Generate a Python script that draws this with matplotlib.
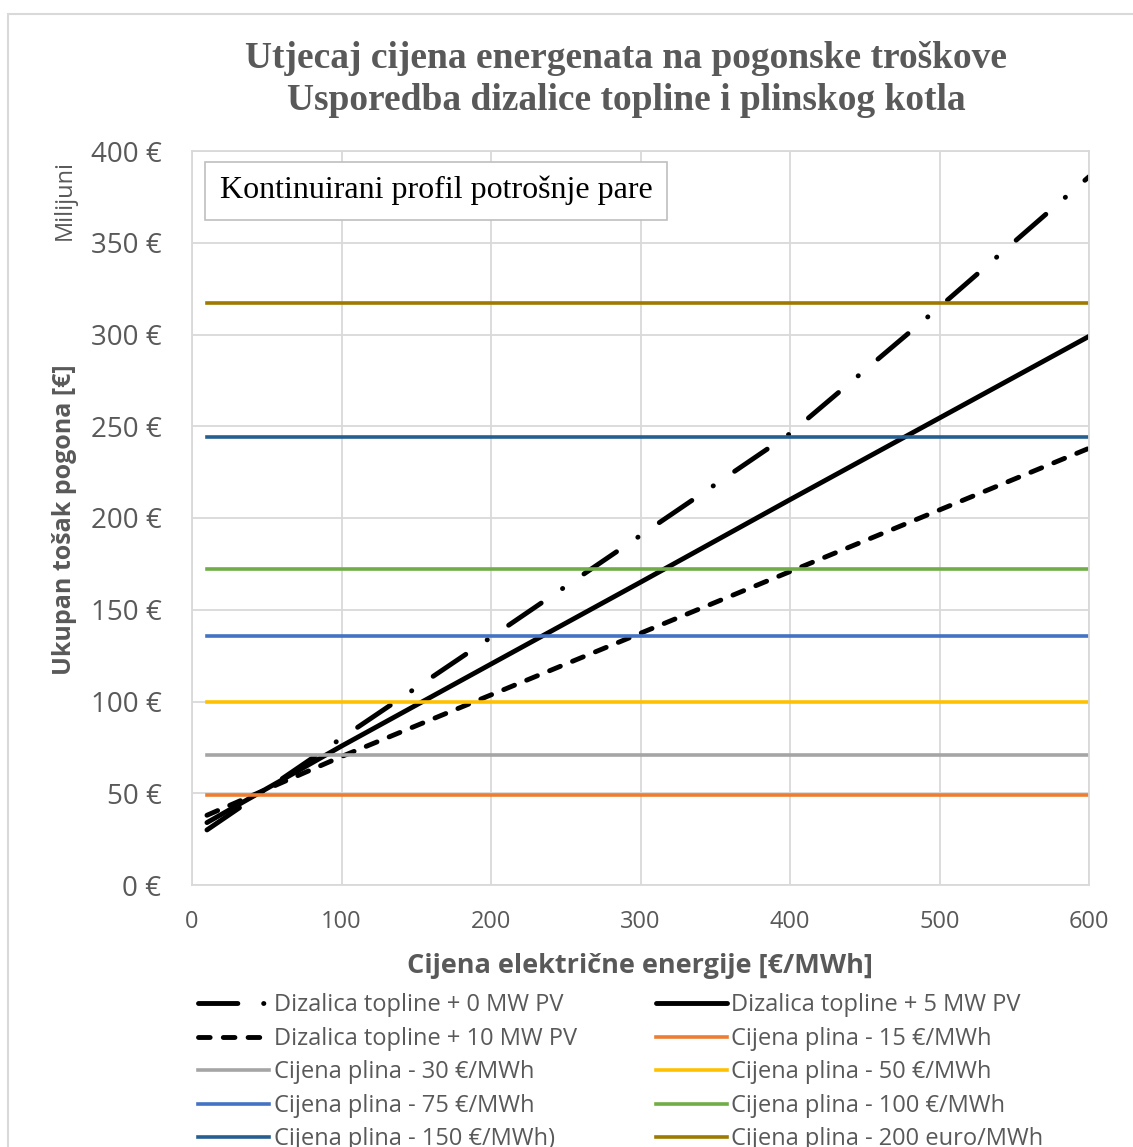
import matplotlib
matplotlib.use("Agg")
import matplotlib.pyplot as plt
from matplotlib.patches import Rectangle
from matplotlib.ticker import FuncFormatter

# ---- data ----
x_price = [10, 100, 200, 300, 400, 500, 600]
hp_0mw = [30, 80, 135, 190.5, 246, 315, 386]
hp_5mw = [34, 75.7, 120.4, 165, 210, 254.5, 299]
hp_10mw = [38, 70, 103.6, 137.2, 170.8, 204.4, 238]
gas_x = [10, 600]
gas_labels = ["Cijena plina - 15 €/MWh", "Cijena plina - 30 €/MWh",
              "Cijena plina - 50 €/MWh", "Cijena plina - 75 €/MWh",
              "Cijena plina - 100 €/MWh", "Cijena plina - 150 €/MWh)",
              "Cijena plina - 200 euro/MWh"]
gas_values = [49, 70.8, 99.6, 135.8, 172, 244.4, 317]
gas_colors = ["#ED7D31", "#A5A5A5", "#FFC000", "#4472C4", "#70AD47",
              "#255E91", "#9E7A00"]
hp_labels = ["Dizalica topline + 0 MW PV", "Dizalica topline + 5 MW PV",
             "Dizalica topline + 10 MW PV"]
x_ticks = [0, 100, 200, 300, 400, 500, 600]
y_ticks = [0, 50, 100, 150, 200, 250, 300, 350, 400]

W, H = 1133, 1147
fig = plt.figure(figsize=(W / 100, H / 100), dpi=100)
fig.patches.append(Rectangle((8 / W, -0.1), 2, 1.1 - 14 / H, transform=fig.transFigure,
                             fill=False, edgecolor="#D9D9D9", linewidth=1.5))

ax = fig.add_axes([192 / W, 1 - 885 / H, (1089 - 192) / W, (885 - 151) / H])
ax.set_xlim(0, 600)
ax.set_ylim(0, 400)
ax.grid(True, color="#D9D9D9", linewidth=1.3)
ax.set_axisbelow(True)
for s in ax.spines.values():
    s.set_color("#D9D9D9")
    s.set_linewidth(1.3)
ax.set_xticks(x_ticks)
ax.set_yticks(y_ticks)
ax.tick_params(axis="y", length=0, pad=22, labelcolor="#595959")
ax.tick_params(axis="x", length=0, pad=18, labelcolor="#595959")
ax.yaxis.set_major_formatter(FuncFormatter(lambda v, p: f"{int(v)} €"))
for lab in ax.get_yticklabels():
    lab.set_fontfamily("Open Sans")
    lab.set_fontsize(20)
for lab in ax.get_xticklabels():
    lab.set_fontfamily("Open Sans")
    lab.set_fontsize(17)

lw = 3.5
h0, = ax.plot(x_price, hp_0mw, color="black", lw=lw, dashes=(8.1, 5.3, 0.05, 5.3),
              dash_capstyle="round", solid_capstyle="round", label=hp_labels[0])
h5, = ax.plot(x_price, hp_5mw, color="black", lw=lw, solid_capstyle="round",
              label=hp_labels[1])
h10, = ax.plot(x_price, hp_10mw, color="black", lw=lw, dashes=(2.4, 2.7),
               dash_capstyle="round", label=hp_labels[2])
gh = []
for v, c, l in zip(gas_values, gas_colors, gas_labels):
    g, = ax.plot(gas_x, [v, v], color=c, lw=2.6, label=l)
    gh.append(g)

# legend order (row-major, two columns)
order = [h0, h5, h10, gh[0], gh[1], gh[2], gh[3], gh[4], gh[5], gh[6]]
leg_handles = order[0::2] + order[1::2]
leg = fig.legend(handles=leg_handles, labels=[h.get_label() for h in leg_handles],
                 ncol=2, loc="upper left", bbox_to_anchor=(189 / W, 1 - 984 / H),
                 frameon=False, prop={"family": "Open Sans", "size": 17},
                 handlelength=3.0, handletextpad=0.2, columnspacing=3.33,
                 labelspacing=0.40, borderaxespad=0)
for t in leg.get_texts():
    t.set_color("#595959")

# annotation box
ax.text(0.031, 0.946, "Kontinuirani profil potrošnje pare", transform=ax.transAxes,
        fontsize=23, family="Liberation Serif", color="black", va="center", ha="left",
        bbox=dict(boxstyle="square,pad=0.45", facecolor="white", edgecolor="#BFBFBF",
                  linewidth=1.2))

fig.text(626 / W, 1 - 58 / H, "Utjecaj cijena energenata na pogonske troškove",
         ha="center", va="center", fontsize=27, family="Liberation Serif",
         fontweight="bold", color="#595959")
fig.text(626 / W, 1 - 101 / H, "Usporedba dizalice topline i plinskog kotla",
         ha="center", va="center", fontsize=27, family="Liberation Serif",
         fontweight="bold", color="#595959")

fig.text(640 / W, 1 - 966 / H, "Cijena električne energije [€/MWh]", ha="center",
         va="center", fontsize=19.5, family="Open Sans", fontweight="bold", color="#595959")
fig.text(65 / W, 1 - 520 / H, "Ukupan tošak pogona [€]", ha="center", va="center",
         rotation=90, fontsize=18, family="Open Sans", fontweight="bold", color="#595959")
fig.text(65 / W, 1 - 200 / H, "Milijuni", ha="center", va="center", rotation=90,
         fontsize=17, family="Open Sans", color="#595959")

fig.savefig("out.png", dpi=100)
